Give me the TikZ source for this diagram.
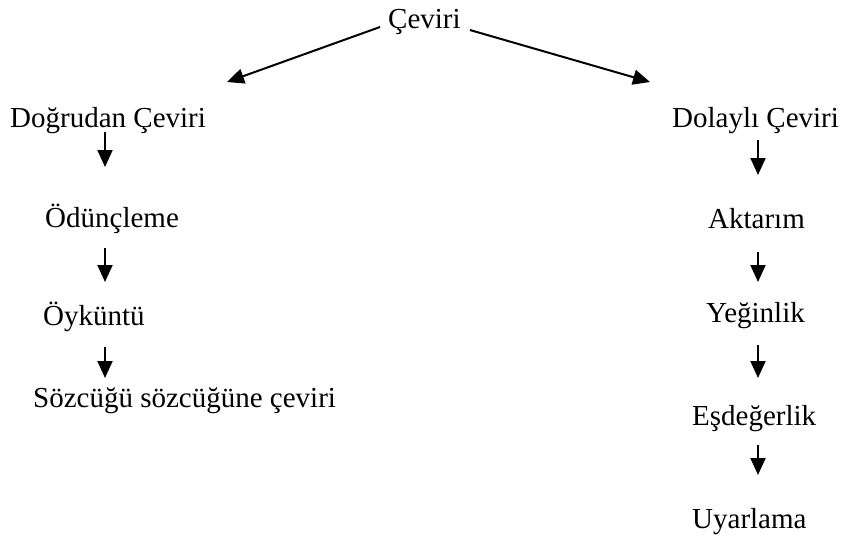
\documentclass[tikz,border=0pt]{standalone}
\usepackage{fontspec}
\setmainfont{Liberation Serif}
\usetikzlibrary{arrows.meta}

\begin{document}
\begin{tikzpicture}[
    x=1pt, y=-1pt,
    lbl/.style={anchor=base west, inner sep=0pt, font=\fontsize{29}{34}\selectfont},
    ok/.style={line width=2pt, -{Triangle[length=17pt, width=15pt]}},
]
\useasboundingbox (0,0) rectangle (842,536);

% Kök ve iki dal
\node[lbl] (ceviri) at (388,28) {Çeviri};
\node[lbl] (dogrudan) at (10,127) {Doğrudan Çeviri};
\node[lbl] (dolayli) at (672,127) {Dolaylı Çeviri};

% Sütun eksenleri ve üst okların uçları
\coordinate (solX) at (105,0);
\coordinate (sagX) at (758,0);
\coordinate (uclSol) at (227,82);
\coordinate (uclSag) at (650,82);

\draw[ok] ([xshift=-8pt,yshift=1pt]ceviri.base west) -- (uclSol);
\draw[ok] ([xshift=9pt,yshift=-2pt]ceviri.base east) -- (uclSag);

% Doğrudan çeviri yöntemleri
\node[lbl] (odunc) at (45,227) {Ödünçleme};
\node[lbl] (oykuntu) at (43,325) {Öyküntü};
\node[lbl] (sozcuk) at (33,407) {Sözcüğü sözcüğüne çeviri};

% Dolaylı çeviri yöntemleri
\node[lbl] (aktarim) at (708,228) {Aktarım};
\node[lbl] (yeginlik) at (706,322) {Yeğinlik};
\node[lbl] (esdeger) at (692,425) {Eşdeğerlik};
\node[lbl] (uyarlama) at (692,528) {Uyarlama};

% Dikey oklar
\draw[ok] ([yshift=-5pt]dogrudan.base -| solX) -- ([yshift=60pt]odunc.base -| solX);
\draw[ok] ([yshift=-21pt]odunc.base -| solX) -- ([yshift=43pt]oykuntu.base -| solX);
\draw[ok] ([yshift=-22pt]oykuntu.base -| solX) -- ([yshift=29pt]sozcuk.base -| solX);

\draw[ok] ([yshift=-13pt]dolayli.base -| sagX) -- ([yshift=53pt]aktarim.base -| sagX);
\draw[ok] ([yshift=-24pt]aktarim.base -| sagX) -- ([yshift=40pt]yeginlik.base -| sagX);
\draw[ok] ([yshift=-23pt]yeginlik.base -| sagX) -- ([yshift=47pt]esdeger.base -| sagX);
\draw[ok] ([yshift=-20pt]esdeger.base -| sagX) -- ([yshift=53pt]uyarlama.base -| sagX);

\end{tikzpicture}
\end{document}
